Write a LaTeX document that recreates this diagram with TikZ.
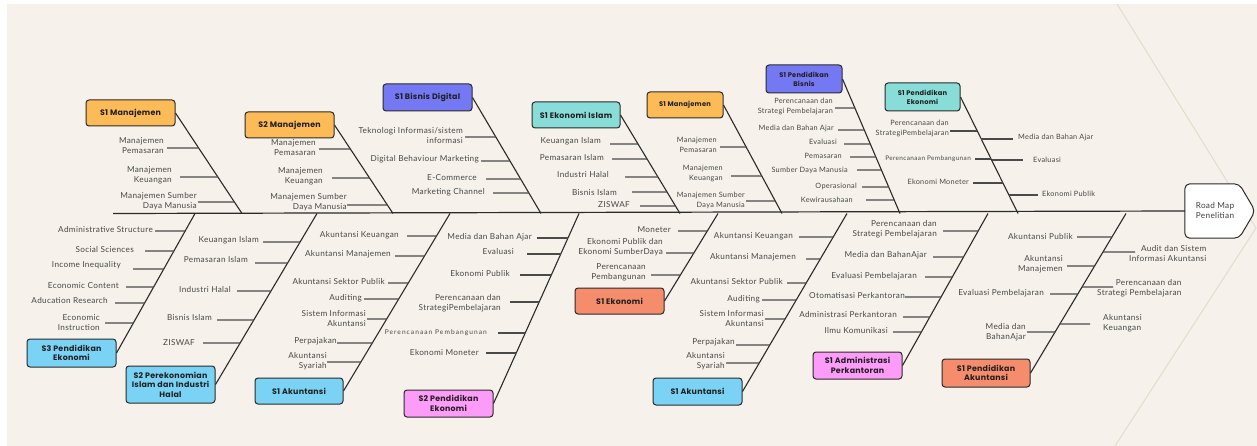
\documentclass[tikz,border=0pt]{standalone}
\usepackage{fontspec}
\setmainfont{Lato}[LetterSpace=4]
\newfontfamily\boxfont{Poppins}[LetterSpace=3]
\newfontfamily\spacedfont{Lato}[LetterSpace=6]
\newfontfamily\spacedfontB{Lato}[LetterSpace=16]
\usetikzlibrary{calc}
\definecolor{bg}{HTML}{F6F2EB}
\definecolor{cOrange}{HTML}{FDBB58}
\definecolor{cViolet}{HTML}{7578F3}
\definecolor{cTeal}{HTML}{88DDD9}
\definecolor{cBlue}{HTML}{7AD3F5}
\definecolor{cPink}{HTML}{FD9BF8}
\definecolor{cSalmon}{HTML}{F58D6C}
\definecolor{txt}{HTML}{474747}
\definecolor{ink}{HTML}{2A2A2A}
\definecolor{faint}{HTML}{E4DCCB}
\tikzset{
  box/.style={draw=ink, line width=1pt, rounded corners=3pt, inner sep=1pt, align=center,
    font=\boxfont\bfseries\fontsize{7.9}{9.4}\selectfont, text=black!88},
  smallbox/.style={box, font=\boxfont\bfseries\fontsize{6.7}{8.8}\selectfont},
  lbl/.style={text=txt, font=\fontsize{8.2}{10}\selectfont, inner sep=0pt},
  rib/.style={draw=ink!85, line width=1.3pt},
  bone/.style={draw=ink, line width=1.1pt},
  spine/.style={draw=ink, line width=1.2pt},
}
\newcommand\ribL[8]{%
  \coordinate (#1s) at (#5,#4);
  \coordinate (#1e) at (intersection of #2.east--#3 and 0,#4--10,#4);
  \draw[rib] (#1s) -- (#1e);
  \node[lbl,anchor=east,align=right] (#1) at (#6,#7) {#8};}
\newcommand\ribR[9]{%
  \coordinate (#1s) at (#5,#4);
  \coordinate (#1e) at (intersection of #2.east--#3 and 0,#4--10,#4);
  \draw[rib] (#1e) -- (#1s);
  \node[lbl,anchor=west,align=#8] (#1) at (#6,#7) {#9};}
\newcommand\smalltxt{\fontsize{6.4}{8}\selectfont\spacedfont}
\newcommand\smalltxtB{\fontsize{6.6}{8}\selectfont\spacedfontB}
\begin{document}
\begin{tikzpicture}[x=1pt,y=-1pt]
\useasboundingbox (0,0) rectangle (1257,446);
\fill[white] (0,0) rectangle (1257,446);
\fill[bg] (7,4) rectangle (1257,446);
\draw[faint, line width=1pt] (1117,4) -- (1256,228) -- (1115,446);

% spine coordinates
\coordinate (spL) at (113,213.5);
\foreach \n/\x in {t1sp/242,t2sp/393,t3sp/541,t4sp/680,t5sp/782,t6sp/900,t7sp/1018,
                   b1sp/195,b2sp/317,b3sp/450,b4sp/579,b5sp/718,b6sp/847,b7sp/988,b8sp/1126}
  \coordinate (\n) at (\x,213.5);

% head
\node[minimum width=70pt, minimum height=54pt, inner sep=0pt] (head) at (1220,211) {};
\draw[draw=ink, line width=1pt, fill=white, rounded corners=5pt]
  (head.north west) -- ([xshift=-16pt]head.north east) -- (head.east)
  -- ([xshift=-16pt]head.south east) -- (head.south west) -- cycle;
\node[lbl, align=center, text=ink!90] (headtxt) at (1215,211) {Road Map\\Penelitian};
\draw[spine] (spL) -- (head.west);

% boxes
\node[box, fill=cOrange, minimum width=89pt, minimum height=26pt] (t1) at (130.5,113) {S1 Manajemen};
\node[box, fill=cOrange, minimum width=89pt, minimum height=26pt] (t2) at (289.5,125) {S2 Manajemen};
\node[box, fill=cViolet, minimum width=89pt, minimum height=27pt] (t3) at (427.5,97.5) {S1 Bisnis Digital};
\node[box, fill=cTeal, minimum width=88pt, minimum height=26pt] (t4) at (576,115) {S1 Ekonomi Islam};
\node[smallbox, fill=cOrange, minimum width=76pt, minimum height=26pt] (t5) at (685,105) {S1 Manajemen};
\node[smallbox, fill=cViolet, minimum width=76pt, minimum height=28pt] (t6) at (804,79) {S1 Pendidikan\\Bisnis};
\node[smallbox, fill=cTeal, minimum width=75pt, minimum height=28pt] (t7) at (922.5,97) {S1 Pendidikan\\Ekonomi};
\node[box, fill=cBlue, minimum width=89pt, minimum height=28pt] (b1) at (71.5,353) {S3 Pendidikan\\Ekonomi};
\node[box, fill=cBlue, minimum width=89pt, minimum height=37pt] (b2) at (170.5,384.5) {S2 Perekonomian\\Islam dan Industri\\Halal};
\node[box, fill=cBlue, minimum width=88pt, minimum height=26pt] (b3) at (299,391) {S1 Akuntansi};
\node[box, fill=cPink, minimum width=89pt, minimum height=27pt] (b4) at (448.5,403.5) {S2 Pendidikan\\Ekonomi};
\node[box, fill=cSalmon, minimum width=89pt, minimum height=26pt] (b5) at (619.5,301) {S1 Ekonomi};
\node[box, fill=cBlue, minimum width=89pt, minimum height=27pt] (b6) at (697.5,391.5) {S1 Akuntansi};
\node[box, fill=cPink, minimum width=89pt, minimum height=27pt] (b7) at (857.5,365.5) {S1 Administrasi\\Perkantoran};
\node[box, fill=cSalmon, minimum width=88pt, minimum height=28pt] (b8) at (986,373) {S1 Pendidikan\\Akuntansi};

% bones
\foreach \b in {t1,t2,t3,t4,t5,t6,t7,b1,b2,b3,b4,b5,b6,b7,b8}
  \draw[bone] (\b.east) -- (\b sp);

% T1
\ribL{t1a}{t1}{t1sp}{148}{167}{164}{146}{Manajemen\\Pemasaran}
\ribL{t1b}{t1}{t1sp}{177}{180}{172}{175.5}{Manajemen\\Keuangan}
\ribL{t1c}{t1}{t1sp}{202}{198}{197}{201.5}{Manajemen Sumber\\Daya Manusia}
% T2
\ribL{t2a}{t2}{t2sp}{149}{319}{316}{147.5}{Manajemen\\Pemasaran}
\ribL{t2b}{t2}{t2sp}{178}{332}{323}{176.5}{Manajemen\\Keuangan}
\ribL{t2c}{t2}{t2sp}{205}{347}{347}{202.5}{Manajemen Sumber\\Daya Manusia}
% T3
\ribL{t3a}{t3}{t3sp}{137}{465}{463}{135.7}{Teknologi Informasi/sistem\\informasi}
\ribL{t3b}{t3}{t3sp}{161}{481}{479}{159}{Digital Behaviour Marketing}
\ribL{t3c}{t3}{t3sp}{179}{486}{477}{178}{E-Commerce}
\ribL{t3d}{t3}{t3sp}{193}{493}{485}{192.5}{Marketing Channel}
% T4
\ribL{t4a}{t4}{t4sp}{144}{610}{601}{141.5}{Keuangan Islam}
\ribL{t4b}{t4}{t4sp}{159}{612}{604}{158}{Pemasaran Islam}
\ribL{t4c}{t4}{t4sp}{177}{625}{609}{174.5}{Industri Halal}
\ribL{t4d}{t4}{t4sp}{192}{632}{617}{192.5}{Bisnis Islam}
\ribL{t4e}{t4}{t4sp}{206}{640}{630}{205}{ZISWAF}
\begin{scope}[lbl/.append style={font=\fontsize{7.3}{10}\selectfont}]
% T5
\ribL{t5a}{t5}{t5sp}{147}{720}{717}{145}{Manajemen\\Pemasaran}
\ribL{t5b}{t5}{t5sp}{176}{731}{723}{174}{Manajemen\\Keuangan}
\ribL{t5c}{t5}{t5sp}{201}{746}{745}{200}{Manajemen Sumber\\Daya Manusia}
% T6
\ribL{t6a}{t6}{t6sp}{108}{835}{833}{106.7}{Perencanaan dan\\Strategi Pembelajaran}
\ribL{t6b}{t6}{t6sp}{130}{838}{834}{128}{Media dan Bahan Ajar}
\ribL{t6c}{t6}{t6sp}{144}{844}{837}{142}{Evaluasi}
\ribL{t6d}{t6}{t6sp}{157}{850}{842}{155.5}{Pemasaran}
\ribL{t6e}{t6}{t6sp}{170}{857}{848}{170}{Sumber Daya Manusia}
\ribL{t6f}{t6}{t6sp}{187}{862}{857}{186}{Operasional}
\ribL{t6g}{t6}{t6sp}{200}{866}{853}{199.5}{Kewirausahaan}
% T7
\ribL{t7a}{t7}{t7sp}{131}{950}{949}{128.5}{Perencanaan dan\\StrategiPembelajaran}
\ribL{t7b}{t7}{t7sp}{159}{975}{971}{159}{\smalltxt Perencanaan Pembangunan}
\ribL{t7c}{t7}{t7sp}{183}{973}{969}{182}{Ekonomi Moneter}
\ribR{t7d}{t7}{t7sp}{139}{1013}{1018}{137.5}{left}{Media dan Bahan Ajar}
\ribR{t7e}{t7}{t7sp}{160}{1023}{1033}{159.5}{left}{Evaluasi}
\ribR{t7f}{t7}{t7sp}{195}{1038}{1042}{194}{left}{Ekonomi Publik}
\end{scope}
% B1
\ribL{b1a}{b1}{b1sp}{231}{155}{153}{229.5}{Administrative Structure}
\ribL{b1b}{b1}{b1sp}{251}{145}{134}{250}{Social Sciences}
\ribL{b1c}{b1}{b1sp}{269}{133}{121}{265.5}{Income Inequality}
\ribL{b1d}{b1}{b1sp}{287}{126}{119}{285.5}{Economic Content}
\ribL{b1e}{b1}{b1sp}{303}{115}{108}{301}{Aducation Research}
\ribL{b1f}{b1}{b1sp}{323}{105}{100}{322.7}{Economic\\Instruction}
% B2
\ribL{b2a}{b2}{b2sp}{242}{263}{259}{240}{Keuangan Islam}
\ribL{b2b}{b2}{b2sp}{263}{255}{248}{259.5}{Pemasaran Islam}
\ribL{b2c}{b2}{b2sp}{291}{237}{231}{290}{Industri Halal}
\ribL{b2d}{b2}{b2sp}{320}{217}{212}{318}{Bisnis Islam}
\ribL{b2e}{b2}{b2sp}{343}{203}{195}{343}{ZISWAF}
% B3
\ribL{b3a}{b3}{b3sp}{236}{407}{399}{235.5}{Akuntansi Keuangan}
\ribL{b3b}{b3}{b3sp}{256}{395}{391}{254.5}{Akuntansi Manajemen}
\ribL{b3c}{b3}{b3sp}{283}{388}{385}{281.5}{Akuntansi Sektor Publik}
\ribL{b3d}{b3}{b3sp}{299}{364}{362}{298.5}{Auditing}
\ribL{b3e}{b3}{b3sp}{319}{367}{366}{318.5}{Sistem Informasi\\Akuntansi}
\ribL{b3f}{b3}{b3sp}{343}{337}{337}{341.5}{Perpajakan}
\ribL{b3g}{b3}{b3sp}{362}{327}{327}{361}{Akuntansi\\Syariah}
% B4
\ribL{b4a}{b4}{b4sp}{238}{537}{532}{237}{Media dan Bahan Ajar}
\ribL{b4b}{b4}{b4sp}{254}{527}{514}{251.5}{Evaluasi}
\ribL{b4c}{b4}{b4sp}{275}{520}{510}{273.5}{Ekonomi Publik}
\ribL{b4d}{b4}{b4sp}{302}{510}{501}{303}{Perencanaan dan\\StrategiPembelajaran}
\ribL{b4e}{b4}{b4sp}{333}{498}{487}{332.5}{\smalltxtB Perencanaan Pembangunan}
\ribL{b4f}{b4}{b4sp}{353}{486}{479}{352.5}{Ekonomi Moneter}
% B5
\ribL{b5a}{b5}{b5sp}{231}{678}{671}{229.5}{Moneter}
\ribL{b5b}{b5}{b5sp}{253}{666}{663}{247.5}{Ekonomi Publik dan\\Ekonomi SumberDaya}
\ribL{b5c}{b5}{b5sp}{275}{651}{646}{272.5}{Perencanaan\\Pembangunan}
% B6
\ribL{b6a}{b6}{b6sp}{237}{799}{793}{236}{Akuntansi Keuangan}
\ribL{b6b}{b6}{b6sp}{259}{806}{796}{257.5}{Akuntansi Manajemen}
\ribL{b6c}{b6}{b6sp}{283}{787}{783}{282}{Akuntansi Sektor Publik}
\ribL{b6d}{b6}{b6sp}{300}{762}{760}{299}{Auditing}
\ribL{b6e}{b6}{b6sp}{319}{765}{764}{319}{Sistem Informasi\\Akuntansi}
\ribL{b6f}{b6}{b6sp}{345}{736}{735}{342.5}{Perpajakan}
\ribL{b6g}{b6}{b6sp}{363}{726}{725}{361.3}{Akuntansi\\Syariah}
% B7
\ribL{b7a}{b7}{b7sp}{231}{943}{937}{229.5}{Perencanaan dan\\Strategi Pembelajaran}
\ribL{b7b}{b7}{b7sp}{257}{933}{927}{255}{Media dan BahanAjar}
\ribL{b7c}{b7}{b7sp}{277}{925}{917}{276}{Evaluasi Pembelajaran}
\ribL{b7d}{b7}{b7sp}{297}{905}{905}{296}{Otomatisasi Perkantoran}
\ribL{b7e}{b7}{b7sp}{317}{903}{897}{315}{Administrasi Perkantoran}
\ribL{b7f}{b7}{b7sp}{332}{893}{888}{331}{Ilmu Komunikasi}
% B8
\ribL{b8a}{b8}{b8sp}{237}{1077}{1073}{236.5}{Akuntansi Publik}
\ribL{b8b}{b8}{b8sp}{266}{1067}{1063}{264.5}{Akuntansi\\Manajemen}
\ribL{b8c}{b8}{b8sp}{294}{1050}{1044}{293}{Evaluasi Pembelajaran}
\ribL{b8d}{b8}{b8sp}{332}{1027}{1026}{332}{Media dan\\BahanAjar}
\ribR{b8e}{b8}{b8sp}{252}{1135}{1129}{254}{right}{Audit dan Sistem\\Informasi Akuntansi}
\ribR{b8f}{b8}{b8sp}{287}{1113}{1097}{288}{right}{Perencanaan dan\\Strategi Pembelajaran}
\ribR{b8g}{b8}{b8sp}{324}{1090}{1103}{323}{left}{Akuntansi\\Keuangan}
\end{tikzpicture}
\end{document}
